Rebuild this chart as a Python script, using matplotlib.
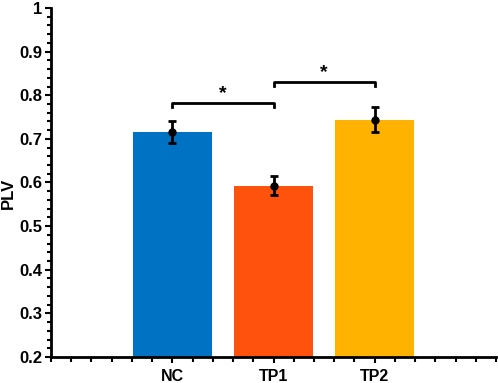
import numpy as np
import matplotlib
matplotlib.use("Agg")
import matplotlib.pyplot as plt
from matplotlib.ticker import MultipleLocator, FuncFormatter

# datos
grupos = ['NC', 'TP1', 'TP2']
plv = [0.716, 0.593, 0.744]
err = [0.025, 0.021, 0.028]
colores = ['#0072C3', '#FF530D', '#FFB300']

# comparaciones significativas (i, j, altura)
pares = [(0, 1, 0.783), (1, 2, 0.831)]

plt.rcParams['font.family'] = ['Liberation Sans', 'DejaVu Sans']
plt.rcParams['font.weight'] = 'bold'

fig = plt.figure(figsize=(4.98, 3.83), dpi=100)
ax = fig.add_axes([0.1024, 0.068, 0.8936, 0.911])

x = np.arange(len(grupos))
ax.bar(x, plv, width=0.78, color=colores, zorder=2)
ax.errorbar(x, plv, yerr=err, fmt='o', color='black', ms=5,
            elinewidth=2, capsize=3, capthick=2, zorder=3)

# corchetes con asterisco
for i, j, h in pares:
    ax.plot([i, i, j, j], [h - 0.009, h, h, h - 0.009], color='black', lw=2,
            solid_joinstyle='round', zorder=3)
    ax.text((i + j) / 2, h + 0.002, '*', ha='center', va='bottom', fontsize=14,
            fontweight='bold')

ax.set_xlim(-1.2, 3.2)
ax.set_ylim(0.2, 1.0)
ax.set_xticks(x)
ax.set_xticklabels(grupos, fontsize=11.5, fontweight='bold')
ax.xaxis.set_minor_locator(MultipleLocator(0.2))
ax.yaxis.set_major_locator(MultipleLocator(0.1))
ax.yaxis.set_minor_locator(MultipleLocator(0.02))
ax.yaxis.set_major_formatter(FuncFormatter(lambda v, p: '%g' % round(v, 2)))
for lab in ax.get_yticklabels():
    lab.set_fontweight('bold')
ax.tick_params(which='major', length=4.5, width=1.5)
ax.tick_params(which='minor', length=3, width=1.5)
ax.tick_params(axis='x', which='minor', length=3.5)
ax.tick_params(axis='y', labelsize=12, pad=2)
ax.tick_params(axis='x', pad=4.5)
ax.set_ylabel('PLV', fontsize=12, fontweight='bold')
ax.yaxis.set_label_coords(-0.08, 0.47)

for s in ['top', 'right']:
    ax.spines[s].set_visible(False)
for s in ['left', 'bottom']:
    ax.spines[s].set_linewidth(2)

fig.savefig('out.png', dpi=100)
